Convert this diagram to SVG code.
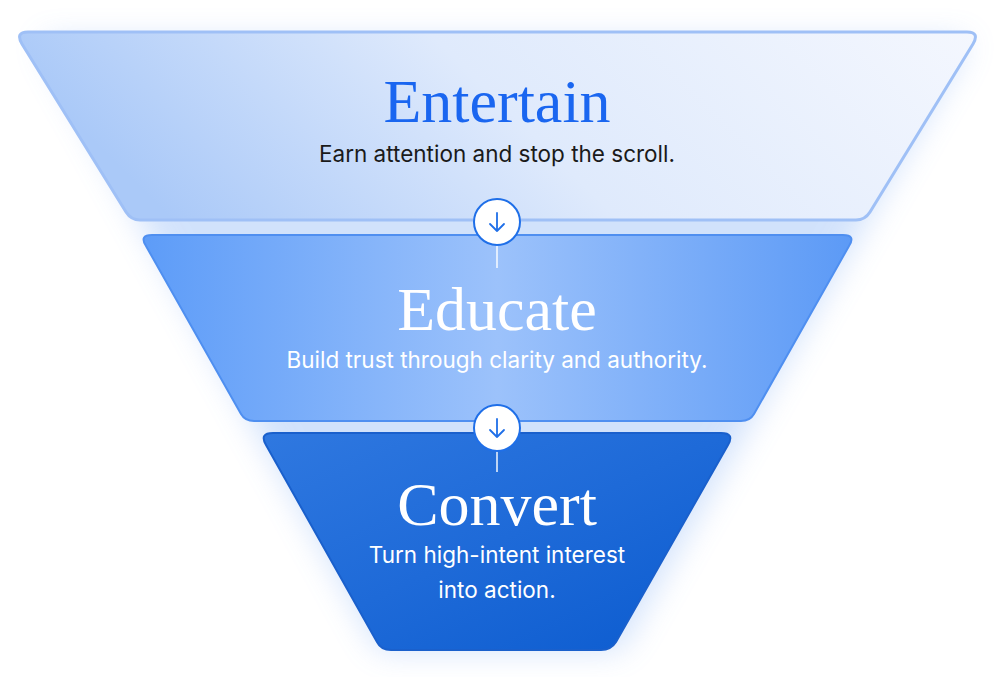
<svg xmlns="http://www.w3.org/2000/svg" width="1004" height="677" viewBox="0 0 1004 677">
<defs>
<linearGradient id="g1" x1="0" y1="0.2" x2="1" y2="0"><stop offset="0" stop-color="#aac9f8"/><stop offset="0.45" stop-color="#dfeafc"/><stop offset="1" stop-color="#f4f7fe"/></linearGradient>
<linearGradient id="g2" x1="0" y1="0" x2="1" y2="0"><stop offset="0" stop-color="#5d9cf8"/><stop offset="0.5" stop-color="#9cc2fb"/><stop offset="1" stop-color="#5c9af6"/></linearGradient>
<linearGradient id="g3" x1="0" y1="0" x2="1" y2="1"><stop offset="0" stop-color="#2f78e0"/><stop offset="0.5" stop-color="#1e6ad8"/><stop offset="1" stop-color="#0b5bcf"/></linearGradient>
<filter id="blur" x="-30%" y="-30%" width="160%" height="160%"><feGaussianBlur stdDeviation="16"/></filter>
</defs>
<style>
.t{font-family:"Liberation Serif",serif;font-size:62px;text-anchor:middle}
.s{font-family:Inter,"Liberation Sans",sans-serif;font-size:22.5px;text-anchor:middle}
.c{fill:#fff;stroke:#1f6fe8;stroke-width:2}
.a{fill:none;stroke:#1f6fe8;stroke-width:1.8;stroke-linecap:round;stroke-linejoin:round}
.l{stroke:#ffffff;stroke-opacity:0.7;stroke-width:2}
</style>
<path d="M40 40 L380 650 L620 650 L970 40 Z" fill="#4d8ef2" opacity="0.25" filter="url(#blur)"/>
<g id="entertain">
<path d="M28 32 L967 32 Q980 32 973 44 L870 212 Q865 220 856 220 L140 220 Q131 220 126 212 L22 44 Q15 32 28 32 Z" fill="url(#g1)" stroke="#9fc0f6" stroke-width="3"/>
<text class="t" x="497" y="122" fill="#1a66f0">Entertain</text>
<text class="s" x="497" y="162" fill="#1a1a1a">Earn attention and stop the scroll.</text>
</g>
<g id="educate">
<path d="M152 235 L843 235 Q856 235 849 246 L754 414 Q750 421 741 421 L254 421 Q245 421 241 414 L146 246 Q139 235 152 235 Z" fill="url(#g2)" stroke="#4f8ff0" stroke-width="2"/>
<text class="t" x="497" y="330" fill="#ffffff">Educate</text>
<text class="s" x="497" y="368" fill="#ffffff">Build trust through clarity and authority.</text>
</g>
<g id="convert">
<path d="M273 433 L721 433 Q735 433 728 445 L616 642 Q611 650 601 650 L391 650 Q381 650 377 642 L266 445 Q259 433 273 433 Z" fill="url(#g3)" stroke="#1a60cc" stroke-width="2"/>
<text class="t" x="497" y="525" fill="#ffffff">Convert</text>
<text class="s" x="497" y="563" fill="#ffffff">Turn high-intent interest</text>
<text class="s" x="497" y="598" fill="#ffffff">into action.</text>
</g>
<g id="connectors">
<line class="l" x1="497" y1="240" x2="497" y2="268"/>
<line class="l" x1="497" y1="446" x2="497" y2="472"/>
<circle class="c" cx="497" cy="222" r="23"/>
<path class="a" d="M497 213 V231 M490 224 L497 231 L504 224"/>
<circle class="c" cx="497" cy="428" r="23"/>
<path class="a" d="M497 419 V437 M490 430 L497 437 L504 430"/>
</g>
</svg>
